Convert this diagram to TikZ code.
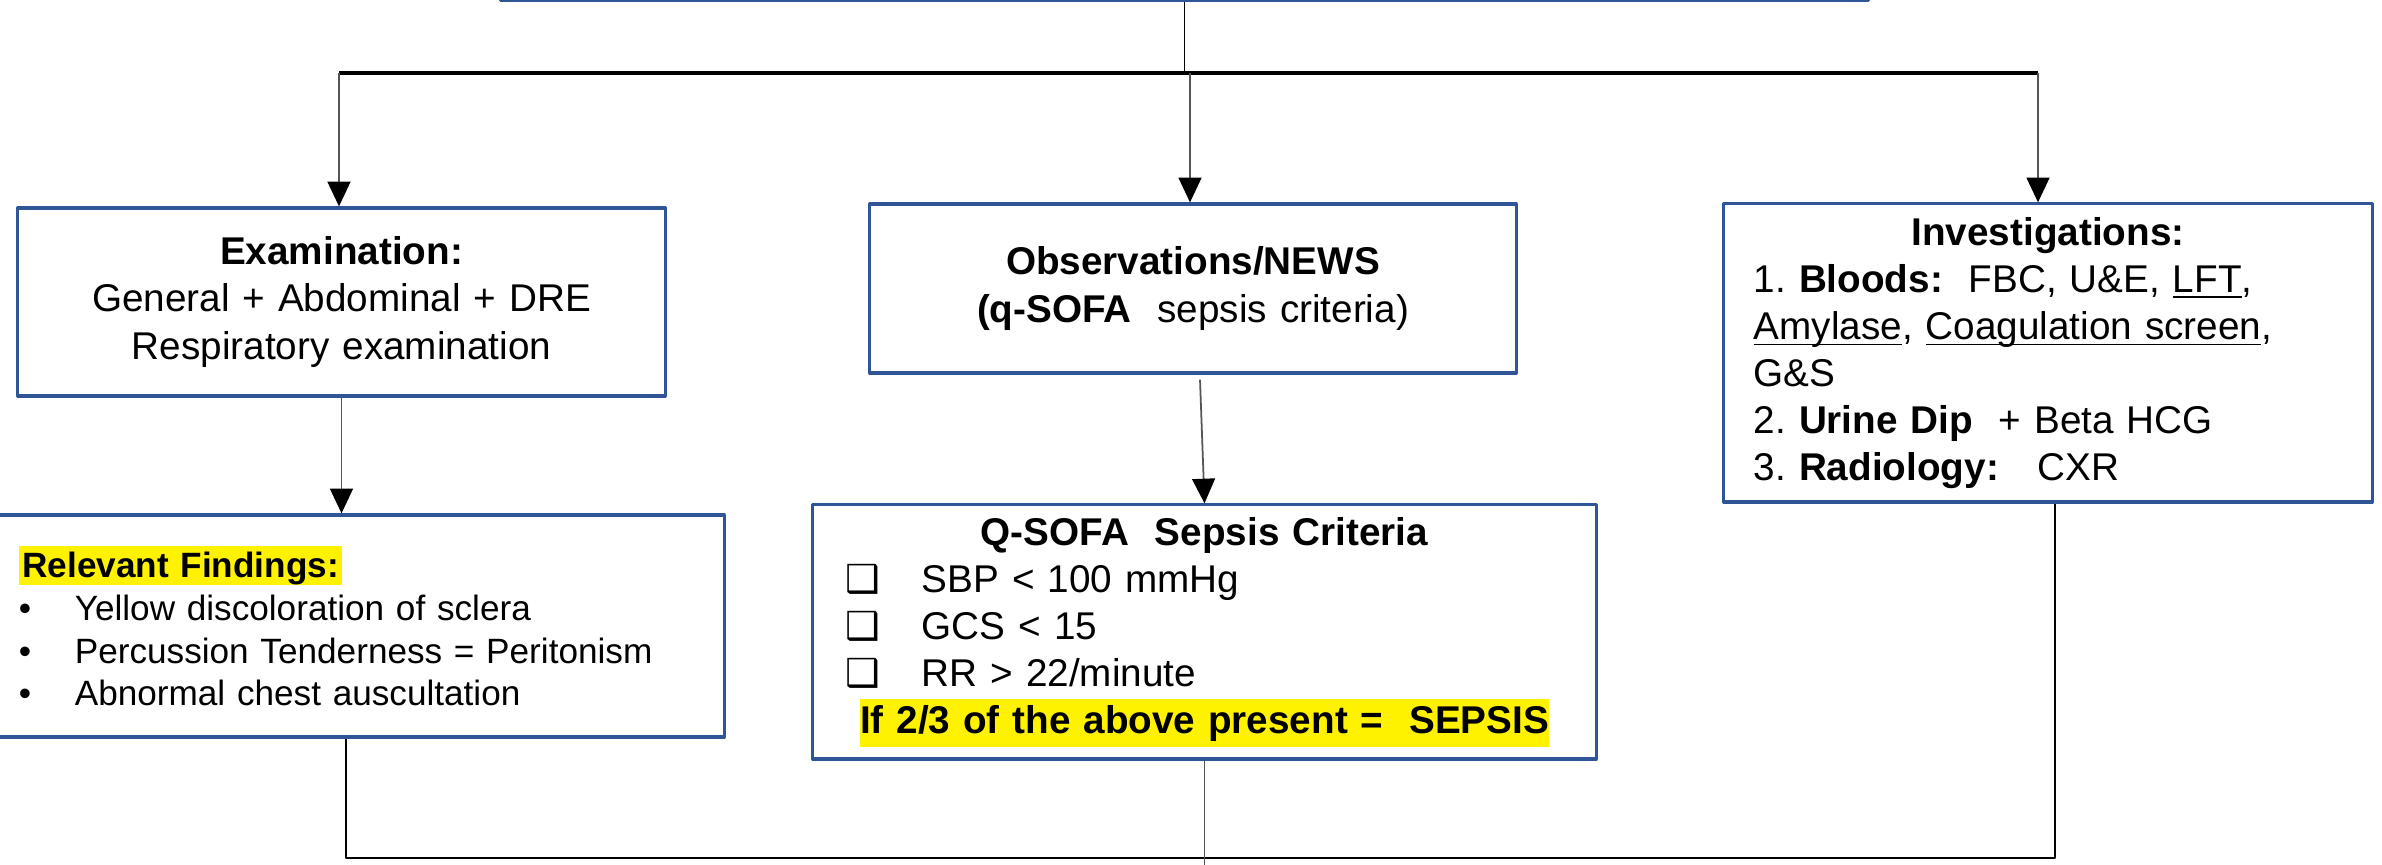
\documentclass[tikz,border=0pt]{standalone}
\usepackage{fontspec}
\setmainfont{Liberation Sans}
\newfontfamily\dejavu{DejaVu Sans}
\usepackage{xcolor}
\usetikzlibrary{arrows.meta}
\usetikzlibrary{positioning}
\definecolor{boxblue}{RGB}{47,85,151}
\definecolor{linkgray}{RGB}{85,85,85}
\frenchspacing
\newcommand{\marked}[3]{{\setlength{\fboxsep}{0pt}\colorbox{yellow}{\rule[-#1]{0pt}{#2}#3}}}
\newcommand{\tick}{\makebox[0.76cm][l]{\dejavu ❑}}
\newcommand{\dotitem}{\makebox[0.56cm][l]{•}}
\newcommand{\under}[1]{\underline{\smash{#1}}}
\tikzset{
  panel/.style={draw=boxblue, line width=0.9pt, inner xsep=0.3cm, inner ysep=0pt,
    font=\fontsize{11}{13.4}\selectfont},
  link/.style={draw=linkgray, line width=0.5pt, -{Triangle[length=7pt, width=6.5pt, color=black]}},
  trunk/.style={line width=1.1pt},
}

\begin{document}
\begin{tikzpicture}[line join=round,x=0.01cm,y=-0.01cm]
\useasboundingbox (0,0) rectangle (2382,865);
\node[panel, minimum width=13.67cm, minimum height=1cm, anchor=south] (head) at (1184.5,2) {};
\node[panel, align=center, text width=5.87cm, minimum height=1.88cm] (exam) at (341.5,302)
  {\textbf{Examination:}\\ General + Abdominal + DRE\\ Respiratory examination};
\node[panel, align=center, text width=5.86cm, minimum height=1.69cm] (obs) at (1193,288.5)
  {\textbf{Observations/NEWS}\\ \textbf{(q-SOFA}~~sepsis criteria)};
\node[panel, align=left, text width=5.88cm, minimum height=2.98cm] (inv) at (2048,353)
  {\makebox[\hsize]{\textbf{Investigations:}}\\
   1. \textbf{Bloods:}~~FBC, U\&E, \under{LFT},\\
   \under{Amylase}, \under{Coagulation screen},\\
   G\&S\\
   2. \textbf{Urine Dip}~~+ Beta HCG\\
   3. \textbf{Radiology:}~~~CXR};
\node[panel, align=left, inner xsep=0.2cm, text width=6.85cm, minimum height=2.22cm,
  font=\fontsize{10}{12.2}\selectfont] (rf) at (361.5,626)
  {\marked{2pt}{11pt}{\kern1pt\textbf{Relevant Findings:}\kern1pt}\\
   \dotitem Yellow discoloration of sclera\\
   \dotitem Percussion Tenderness = Peritonism\\
   \dotitem Abnormal chest auscultation};
\node[panel, align=left, inner xsep=0.33cm, text width=7.17cm, minimum height=2.54cm] (qsofa) at (1204.5,632)
  {\makebox[\hsize]{\textbf{Q-SOFA~~Sepsis Criteria}}\\
   \tick SBP < 100 mmHg\\
   \tick GCS < 15\\
   \tick RR > 22/minute\\
   \makebox[\hsize]{\marked{3.7pt}{13.6pt}{\textbf{If 2/3 of the above present =~~SEPSIS}}}};
% branch points on the bar
\coordinate (dropE) at (339,73);
\coordinate (dropO) at (1190,73);
\coordinate (dropI) at (2038,73);
\coordinate (baseL) at (346,858);
\coordinate (baseR) at (2055,858);
\draw [line width=0.5pt] (head.south) -- (head.south |- dropO);
\draw [trunk] (dropE) -- (dropI);
\draw [link] (dropE) -- (dropE |- exam.north);
\draw [link] (dropO) -- (dropO |- obs.north);
\draw [link] (dropI) -- (dropI |- inv.north);
\draw [link] (exam.south) -- (exam.south |- rf.north);
\draw [link] ([shift={(7,5)}]obs.south) -- (qsofa.north);
\draw [line width=0.8pt] (baseL |- rf.south) -- (baseL) -- (baseR) -- (baseR |- inv.south);
\draw [draw=linkgray, line width=0.5pt] (qsofa.south) -- ++(0,120);
\end{tikzpicture}
\end{document}
